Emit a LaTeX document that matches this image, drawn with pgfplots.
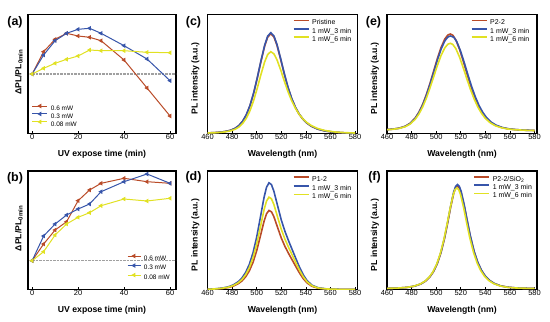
\documentclass[border=0pt]{standalone}
\usepackage{pgfplots}
\pgfplotsset{compat=1.18}
\usepackage{fontspec}
\setmainfont{Liberation Sans}
\definecolor{cred}{RGB}{185,75,40}
\definecolor{cblue}{RGB}{55,85,170}
\definecolor{cyel}{RGB}{225,225,35}
\definecolor{cgray}{RGB}{160,160,160}
\newcommand\tickfont{\fontsize{7.5}{9}\selectfont}
\newcommand\labfont{\bfseries\fontsize{8.7}{10}\selectfont}
\newcommand\legfont{\fontsize{7}{8}\selectfont}
\newcommand\legfontsmall{\fontsize{6.5}{7.5}\selectfont}
\newcommand\panfont{\bfseries\fontsize{12.5}{14}\selectfont}
\pgfplotsset{
  panel/.style={scale only axis, anchor=south west,
    axis line style={line width=1.2bp}, tick style={black, line width=0.6bp},
    tick align=inside, major tick length=2bp, ytick=\empty, xtick pos=left,
    ticklabel style={font=\tickfont}, xticklabel style={inner sep=1bp},
    /pgf/number format/assume math mode=true,
    xlabel style={at={(axis description cs:0.5,0)}, anchor=center, yshift=-20.5bp, font=\labfont},
    legend cell align=left,
    legend style={draw=none, fill=none, inner sep=0pt, outer sep=0pt, anchor=north west,
      nodes={inner sep=0.4bp, text height=5bp, text depth=1.3bp},
      /tikz/every odd column/.append style={column sep=2.5bp}},
  },
  spec/.style={panel, width=150bp, xmin=460, xmax=582, ymin=0, xtick={460,480,...,580},
    xlabel={Wavelength (nm)}, ylabel={PL intensity (a.u.)},
    ylabel style={at={(axis description cs:-0.08,0.46)}, anchor=center, font=\labfont},
    legend style={font=\legfont, row sep=1.2bp},
    legend image code/.code={\draw[##1] (0bp,2.5bp) -- (15bp,2.5bp);}},
  time/.style={panel, width=148bp, xmin=-1.8, xmax=62.6, xtick={0,20,40,60},
    xlabel={UV expose time (min)}, ylabel={ΔPL/PL\textsubscript{0min}},
    ylabel style={at={(axis description cs:-0.062,0.516)}, anchor=center, font=\labfont},
    legend style={font=\legfontsmall},
    legend image code/.code={\draw[mark repeat=2,mark phase=2,##1] plot coordinates {(0bp,2.5bp) (7.5bp,2.5bp) (15bp,2.5bp)};}},
  sl/.style={line width=1.6bp},
  tl/.style={line width=1bp, mark=triangle*, mark size=1.7bp, mark options={rotate=90, solid}},
  zl/.style={cgray, line width=1.3bp, dash pattern=on 2.5bp off 1bp, forget plot},
}
\begin{document}
\begin{tikzpicture}
% (a)
\begin{axis}[time, at={(28bp,188.7bp)}, height=118.8bp, ymin=-59.3, ymax=59.5,
  legend style={at={(axis description cs:0.027,0.242)}, row sep=0.4bp}]
\addplot[zl] coordinates {(0,0) (62.6,0)};
\addplot[tl, cred] coordinates {(0,0) (5,22.3) (10,34.7) (15,40.7) (20,38) (25,36.7) (30,33.3) (40,14) (50,-14) (60,-42)};
\addplot[tl, cblue] coordinates {(0,0) (5,19) (10,33.3) (15,40.7) (20,44.7) (25,45.7) (30,40.7) (40,28.3) (50,15) (60,-6.7)};
\addplot[tl, cyel] coordinates {(0,0) (5,5.7) (10,10.7) (15,14.7) (20,18) (25,24) (30,23.3) (40,23.3) (50,21.7) (60,21.3)};
\legend{0.6 mW, 0.3 mW, 0.08 mW}
\end{axis}
% (b)
\begin{axis}[time, at={(28bp,32.5bp)}, height=118.5bp, ymin=-28.8, ymax=89.7,
  legend style={at={(axis description cs:0.669,0.295)}, row sep=2bp},
  legend image code/.code={\draw[mark repeat=2,mark phase=2,#1] plot coordinates {(0bp,2.5bp) (6.5bp,2.5bp) (13bp,2.5bp)};}]
\addplot[zl] coordinates {(0,0) (62.6,0)};
\addplot[tl, cred] coordinates {(0,0) (5,16.7) (10,30.7) (15,39) (20,60) (25,70.7) (30,77.4) (40,82.4) (50,79) (60,77.4)};
\addplot[tl, cblue] coordinates {(0,0) (5,24.7) (10,36.7) (15,45.7) (20,51.7) (25,56.7) (30,69) (40,79) (50,86.7) (60,77.4)};
\addplot[tl, cyel] coordinates {(0,0) (5,9) (10,25.7) (15,36.7) (20,43.4) (25,48) (30,55) (40,61.7) (50,59.7) (60,62.4)};
\legend{0.6 mW, 0.3 mW, 0.08 mW}
\end{axis}
% (c)
\begin{axis}[spec, at={(207.5bp,188.7bp)}, height=118.8bp, ymax=118.8,
  legend style={at={(axis description cs:0.568,0.958)}}]
\addplot[sl, cred] coordinates {(460,0.35) (467.5,0.80) (473.5,1.59) (478.5,2.89) (482.5,4.98) (485.5,7.64) (488.5,11.85) (491.5,18.23) (494.5,27.39) (497.5,39.84) (500.5,55.18) (503.5,71.91) (506.5,87.25) (509,96.31) (511.5,99.6) (514,96.48) (516.5,88.05) (519.5,73.95) (522.5,59.00) (525.5,45.55) (528.5,34.48) (531.5,25.81) (534.5,19.19) (537.5,14.26) (540.5,10.52) (544.5,7.03) (549.5,4.23) (555.5,2.31) (563.5,1.03) (571.5,0.46) (580,0.19)};
\addplot[sl, cblue] coordinates {(460,0.35) (467.5,0.80) (473.5,1.61) (478.5,2.92) (482.5,5.03) (485.5,7.72) (488.5,11.97) (491.5,18.41) (494.5,27.67) (497.5,40.24) (500.5,55.73) (503.5,72.63) (506.5,88.13) (509,97.28) (511.5,100.6) (514,97.45) (516.5,88.93) (519.5,74.70) (522.5,59.60) (525.5,46.00) (528.5,34.83) (531.5,26.07) (534.5,19.39) (537.5,14.41) (540.5,10.62) (544.5,7.10) (549.5,4.28) (555.5,2.33) (563.5,1.04) (571.5,0.46) (580,0.19)};
\addplot[sl, cyel] coordinates {(460,0.29) (467.5,0.65) (473.5,1.31) (478.5,2.37) (482.5,4.08) (485.5,6.26) (488.5,9.71) (491.5,14.93) (494.5,22.44) (497.5,32.64) (500.5,45.21) (503.5,58.92) (506.5,71.48) (509,78.91) (511.5,81.6) (514,79.46) (516.5,73.57) (519.5,63.40) (522.5,52.14) (525.5,41.53) (528.5,32.43) (531.5,25.0) (534.5,19.13) (537.5,14.58) (540.5,11.08) (544.5,7.67) (549.5,4.84) (555.5,2.77) (563.5,1.32) (571.5,0.63) (580,0.29)};
\legend{Pristine, 1 mW\_3 min, 1 mW\_6 min}
\end{axis}
% (d)
\begin{axis}[spec, at={(207.5bp,32.5bp)}, height=118.5bp, ymax=118.5,
  legend style={at={(axis description cs:0.568,0.959)}, row sep=1.7bp}]
\addplot[sl, cred] coordinates {(460,0.22) (466,0.47) (472,1.04) (477,2.01) (481,3.41) (485,5.77) (488,8.51) (491,12.62) (494,18.58) (497,27.09) (500,38.78) (503,53.41) (506,68.27) (508,75.70) (510,79.03) (512,77.71) (514,72.76) (517,62.07) (520,51.55) (523,43.03) (526,35.91) (529,29.26) (532,22.60) (535,16.18) (538,10.68) (541,6.58) (545,3.17) (550,1.29) (556,0.52) (563,0.21) (571,0.08) (580,0.02)};
\addplot[sl, cblue] coordinates {(460,0.29) (466,0.64) (472,1.41) (477,2.72) (481,4.60) (485,7.79) (488,11.50) (491,17.03) (494,25.08) (497,36.58) (500,52.35) (503,72.11) (506,92.17) (508,102.20) (510,106.69) (512,104.92) (514,98.23) (517,83.81) (520,69.60) (523,58.10) (526,48.49) (529,39.50) (532,30.51) (535,21.84) (538,14.42) (541,8.88) (545,4.28) (550,1.75) (556,0.70) (563,0.28) (571,0.10) (580,0.03)};
\addplot[sl, cyel] coordinates {(460,0.25) (466,0.55) (472,1.22) (477,2.35) (481,3.98) (485,6.73) (488,9.94) (491,14.74) (494,21.70) (497,31.64) (500,45.29) (503,62.38) (506,79.73) (508,88.41) (510,92.30) (512,90.76) (514,84.98) (517,72.50) (520,60.21) (523,50.26) (526,41.95) (529,34.17) (532,26.40) (535,18.89) (538,12.48) (541,7.68) (545,3.71) (550,1.51) (556,0.61) (563,0.24) (571,0.09) (580,0.03)};
\legend{P1-2, 1 mW\_3 min, 1 mW\_6 min}
\end{axis}
% (e)
\begin{axis}[spec, at={(387bp,188.7bp)}, height=118.8bp, ymax=118.8,
  legend style={at={(axis description cs:0.558,0.958)}}]
\addplot[sl, cred] coordinates {(460,3.73) (465,4.22) (470,5.16) (475,7.13) (479,10.18) (483,15.36) (486,21.16) (489,28.89) (492,38.60) (495,50.01) (498,62.46) (501,74.86) (504,85.91) (507,94.24) (509.5,98.28) (511.5,99.3) (513.5,98.09) (516,93.37) (519,84.00) (522,72.23) (525,59.74) (528,47.81) (531,37.27) (534,28.48) (537,21.50) (540,16.22) (544,11.29) (548,8.16) (553,5.86) (558,4.57) (564,3.70) (572,3.11) (580,2.81)};
\addplot[sl, cblue] coordinates {(460,3.70) (465,4.19) (470,5.11) (475,7.03) (479,10.02) (483,15.10) (486,20.78) (489,28.34) (492,37.85) (495,49.03) (498,61.22) (501,73.36) (504,84.19) (507,92.34) (509.5,96.30) (511.5,97.3) (514.3,96.12) (516.8,91.49) (519.8,82.31) (522.8,70.78) (525.8,58.56) (528.8,46.88) (531.8,36.55) (534.8,27.94) (537.8,21.11) (540.8,15.93) (544.8,11.11) (548.8,8.05) (553.8,5.79) (558.8,4.53) (564.8,3.68) (572.8,3.10) (580,2.85)};
\addplot[sl, cyel] coordinates {(460,3.61) (465,4.06) (470,4.91) (475,6.68) (479,9.44) (483,14.13) (486,19.37) (489,26.35) (492,35.13) (495,45.45) (498,56.70) (501,67.91) (504,77.90) (507,85.42) (509.5,89.08) (511.5,90.0) (513.5,88.91) (516,84.64) (519,76.17) (522,65.53) (525,54.24) (528,43.46) (531,33.93) (534,25.99) (537,19.68) (540,14.90) (544,10.45) (548,7.62) (553,5.54) (558,4.37) (564,3.59) (572,3.05) (580,2.78)};
\legend{P2-2, 1 mW\_3 min, 1 mW\_6 min}
\end{axis}
% (f)
\begin{axis}[spec, at={(387bp,32.5bp)}, height=118.5bp, ymax=118.5,
  legend style={at={(axis description cs:0.575,0.959)}}]
\addplot[sl, cred] coordinates {(460,1.13) (469.3,1.44) (476.3,2.09) (482.3,3.34) (487.3,5.42) (491.3,8.37) (494.8,12.51) (497.8,17.81) (500.8,25.50) (503.8,36.36) (506.8,51.12) (509.3,66.25) (511.8,82.44) (514.3,96.40) (515.8,101.63) (517.3,103.5) (518.8,101.75) (520.3,96.77) (522.8,83.49) (525.3,67.74) (527.8,52.82) (530.8,38.02) (533.8,26.96) (536.8,19.05) (539.8,13.48) (543.3,9.10) (547.3,5.93) (552.3,3.65) (558.3,2.26) (565.3,1.52) (572.3,1.23) (580,1.08)};
\addplot[sl, cblue] coordinates {(460,1.14) (469.3,1.45) (476.3,2.10) (482.3,3.37) (487.3,5.48) (491.3,8.48) (494.8,12.68) (497.8,18.06) (500.8,25.86) (503.8,36.88) (506.8,51.86) (509.3,67.21) (511.8,83.63) (514.3,97.79) (515.8,103.11) (517.3,105.0) (518.8,103.22) (520.3,98.17) (522.8,84.70) (525.3,68.71) (527.8,53.58) (530.8,38.56) (533.8,27.34) (536.8,19.31) (539.8,13.67) (543.3,9.22) (547.3,6.00) (552.3,3.69) (558.3,2.28) (565.3,1.53) (572.3,1.23) (580,1.08)};
\addplot[sl, cyel] coordinates {(460,1.13) (468.8,1.43) (475.8,2.07) (481.8,3.29) (486.8,5.34) (490.8,8.23) (494.3,12.30) (497.3,17.50) (500.3,25.04) (503.3,35.71) (506.3,50.19) (508.8,65.04) (511.3,80.93) (513.8,94.63) (515.3,99.77) (516.8,101.6) (518.3,99.88) (519.8,94.99) (522.3,81.96) (524.8,66.50) (527.3,51.86) (530.3,37.34) (533.3,26.48) (536.3,18.72) (539.3,13.25) (542.8,8.95) (546.8,5.84) (551.8,3.61) (557.8,2.24) (564.8,1.51) (571.8,1.22) (580,1.08)};
\legend{P2-2/SiO\textsubscript{2}, 1 mW\_3 min, 1 mW\_6 min}
\end{axis}
\node[font=\panfont] at (15bp,300bp) {(a)};
\node[font=\panfont] at (15bp,144bp) {(b)};
\node[font=\panfont] at (193.5bp,300bp) {(c)};
\node[font=\panfont] at (193.5bp,145bp) {(d)};
\node[font=\panfont] at (373.5bp,300bp) {(e)};
\node[font=\panfont] at (374.5bp,145bp) {(f)};
\pgfresetboundingbox
\useasboundingbox (0bp,0bp) rectangle (550bp,322bp);
\end{tikzpicture}
\end{document}
